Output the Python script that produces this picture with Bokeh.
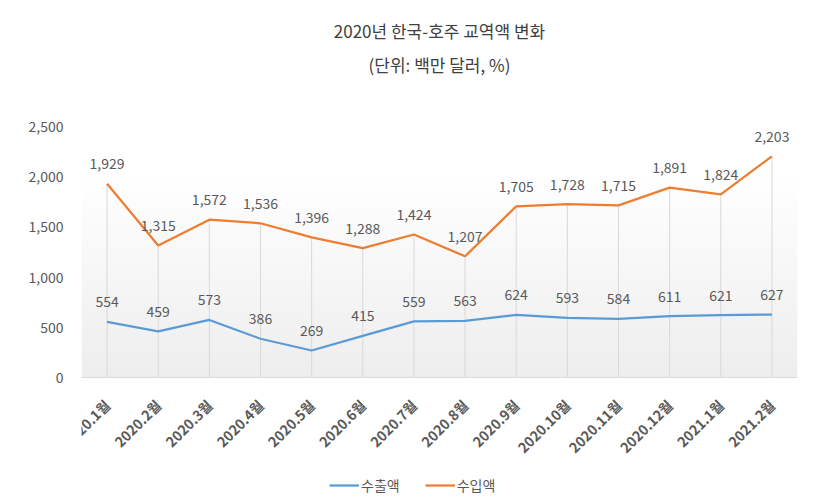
import numpy as np
from math import pi
from bokeh.plotting import figure
from bokeh.models import (Range1d, FixedTicker, NumeralTickFormatter, Title,
                          Legend, LegendItem, Span)
from bokeh.core.properties import value
from bokeh.embed import file_html
from bokeh.resources import INLINE

months = ["2020.1월", "2020.2월", "2020.3월", "2020.4월", "2020.5월", "2020.6월",
          "2020.7월", "2020.8월", "2020.9월", "2020.10월", "2020.11월",
          "2020.12월", "2021.1월", "2021.2월"]
exports = [554, 459, 573, 386, 269, 415, 559, 563, 624, 593, 584, 611, 621, 627]
imports = [1929, 1315, 1572, 1536, 1396, 1288, 1424, 1207, 1705, 1728, 1715,
           1891, 1824, 2203]
y_ticks = [0, 500, 1000, 1500, 2000, 2500]

FONT = "Noto Sans CJK KR"
TXT = "#595959"
BLUE = "#5B9BD5"
ORANGE = "#ED7D31"

xs = list(range(len(months)))

# the frame reaches below the zero line so that the slanted month labels and
# the legend can be drawn inside it (251 px for the value axis, 121 px below)
PLOT_PX, BELOW_PX = 251, 121
y_min = -y_ticks[-1] * BELOW_PX / PLOT_PX

p = figure(frame_width=716, frame_height=PLOT_PX + BELOW_PX,
           output_backend="svg", toolbar_location=None, title=None,
           x_range=Range1d(-0.5, len(months) - 0.5),
           y_range=Range1d(y_min, y_ticks[-1]),
           min_border_left=81, min_border_right=22, min_border_bottom=0,
           min_border_top=126)
p.outline_line_color = None
p.xgrid.visible = False
p.ygrid.visible = False
p.xaxis.visible = False
p.background_fill_color = "white"
p.border_fill_color = "white"

# plot-area gradient (white at top -> light gray at bottom)
ny = 256
t = np.linspace(0, 1, ny)
g = np.clip(238 + (255 - 238) * t / 0.8, 0, 255).astype(np.uint8)
img = np.empty((ny, 1), dtype=np.uint32)
view = img.view(dtype=np.uint8).reshape((ny, 1, 4))
view[:, 0, 0] = g
view[:, 0, 1] = g
view[:, 0, 2] = g
view[:, 0, 3] = 255
p.image_rgba(image=[img], x=-0.5, y=y_ticks[0], dw=len(months),
             dh=y_ticks[-1] - y_ticks[0])

# category axis line at zero
p.add_layout(Span(location=0, dimension="width", line_color="#D9D9D9",
                  line_width=1))

# drop lines
p.segment(x0=xs, y0=[0] * len(xs), x1=xs, y1=imports, line_color="#D9D9D9",
          line_width=1)

r1 = p.line(xs, exports, line_color=BLUE, line_width=2.25)
r2 = p.line(xs, imports, line_color=ORANGE, line_width=2.25)

p.text(x=xs, y=exports, text=[f"{v:,}" for v in exports],
       text_font=value(FONT), text_font_size="14px", text_color=TXT,
       text_align="center", text_baseline="middle", y_offset=-20)
p.text(x=xs, y=imports, text=[f"{v:,}" for v in imports],
       text_font=value(FONT), text_font_size="14px", text_color=TXT,
       text_align="center", text_baseline="middle", y_offset=-20)

# slanted month labels under the zero line
p.text(x=xs, y=[0] * len(xs), text=months, angle=pi / 4,
       text_font=value(FONT), text_font_size="14px", text_font_style="bold",
       text_color=TXT, text_align="right", text_baseline="middle",
       x_offset=0, y_offset=25)

# value axis
p.yaxis.ticker = FixedTicker(ticks=y_ticks)
p.yaxis.formatter = NumeralTickFormatter(format="0,0")
p.yaxis.axis_line_color = None
p.yaxis.major_tick_line_color = None
p.yaxis.minor_tick_line_color = None
p.yaxis.major_label_standoff = 12
p.yaxis.major_label_text_font = FONT
p.yaxis.major_label_text_font_size = "14px"
p.yaxis.major_label_text_color = TXT

legend = Legend(items=[LegendItem(label="수출액", renderers=[r1]),
                       LegendItem(label="수입액", renderers=[r2])],
                orientation="horizontal", location=(248, 3),
                border_line_color=None, background_fill_alpha=0,
                glyph_width=30, label_standoff=2, spacing=25, padding=0,
                label_text_font=FONT, label_text_font_size="14px",
                label_text_color=TXT, margin=0)
p.add_layout(legend, "center")

spacer = Title(text=" ", align="center", text_font=FONT,
               text_font_size="17px", standoff=20)
sub = Title(text="(단위: 백만 달러, %)", align="center", text_font=FONT,
            text_font_size="17px", text_font_style="normal",
            text_color="#404040", standoff=6)
main = Title(text="2020년 한국-호주 교역액 변화", align="center", text_font=FONT,
             text_font_size="17px", text_font_style="normal",
             text_color="#404040", standoff=8)
p.add_layout(spacer, "above")
p.add_layout(sub, "above")
p.add_layout(main, "above")

open("out.html", "w").write(file_html(p, INLINE))
